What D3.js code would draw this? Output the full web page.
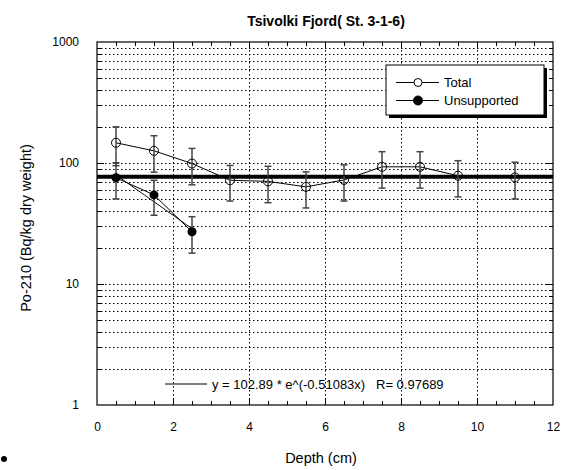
<!DOCTYPE html>
<html>
<head>
<meta charset="utf-8">
<script src="https://cdn.jsdelivr.net/npm/d3@7"></script>
<style>
  html, body { margin: 0; padding: 0; background: #fff; }
  text { font-family: "Liberation Sans", Arial, sans-serif; }
</style>
</head>
<body>
<svg id="chart" width="568" height="470"></svg>
<script>
// Po-210 profile, Tsivolki Fjord station 3-1-6
const depth        = [0.5, 1.5, 2.5, 3.5, 4.5, 5.5, 6.5, 7.5, 8.5, 9.5, 11];
const totalPo      = [147, 126, 99, 72, 70.5, 63.5, 72.5, 93, 93, 78.5, 76];
const totalErr     = [52, 42, 33, 23.5, 23.5, 21, 24, 31, 31, 26, 25.5];
const unsupDepth   = [0.5, 1.5, 2.5];
const unsupPo      = [75.5, 54.5, 27];
const unsupErr     = [25, 17.5, 9];
const supportedPo  = 77;
const fitA = 102.89, fitB = -0.51083, fitR = 0.97689;
const xTicks = [0, 2, 4, 6, 8, 10, 12];
const yTicks = [1, 10, 100, 1000];

const svg = d3.select("#chart");
const L = 97, R = 553, T = 42, B = 405;
const x = d3.scaleLinear().domain([0, 12]).range([L, R]);
const y = d3.scaleLog().domain([1, 1000]).range([B, T]);

// grid: minor log lines and major lines
const minorY = [];
for (let d = 1; d < 1000; d *= 10) for (let k = 2; k <= 9; k++) minorY.push(d * k);
const grid = svg.append("g").attr("stroke", "#000").attr("stroke-width", 1)
  .attr("stroke-dasharray", "1.5,2.5").attr("fill", "none");
grid.selectAll(".gy").data(minorY.concat([10, 100])).join("line")
  .attr("x1", L).attr("x2", R)
  .attr("y1", d => Math.round(y(d)) + 0.5).attr("y2", d => Math.round(y(d)) + 0.5);
grid.selectAll(".gx").data(xTicks.slice(1, -1)).join("line")
  .attr("y1", T).attr("y2", B)
  .attr("x1", d => Math.round(x(d)) + 0.5).attr("x2", d => Math.round(x(d)) + 0.5);

// frame
svg.append("rect").attr("x", L).attr("y", T).attr("width", R - L).attr("height", B - T)
  .attr("fill", "none").attr("stroke", "#000").attr("stroke-width", 1.2);

// inward ticks on all four sides
const tk = svg.append("g").attr("stroke", "#000").attr("stroke-width", 1);
const xMinor = d3.range(0.5, 12, 0.5);
xMinor.forEach(v => {
  const len = (v % 2 === 0) ? 7 : 4;
  const px = Math.round(x(v)) + 0.5;
  tk.append("line").attr("x1", px).attr("x2", px).attr("y1", B).attr("y2", B - len);
  tk.append("line").attr("x1", px).attr("x2", px).attr("y1", T).attr("y2", T + len);
});
minorY.concat([10, 100]).forEach(v => {
  const len = (v === 10 || v === 100) ? 7 : 4;
  const py = Math.round(y(v)) + 0.5;
  tk.append("line").attr("x1", L).attr("x2", L + len).attr("y1", py).attr("y2", py);
  tk.append("line").attr("x1", R).attr("x2", R - len).attr("y1", py).attr("y2", py);
});

// tick labels via d3 axes (axis lines hidden)
const xAxis = svg.append("g").attr("transform", `translate(0,${B})`)
  .call(d3.axisBottom(x).tickValues(xTicks).tickFormat(d3.format("d")).tickSize(0).tickPadding(17));
const yAxis = svg.append("g").attr("transform", `translate(${L},0)`)
  .call(d3.axisLeft(y).tickValues(yTicks).tickFormat(d3.format("d")).tickSize(0).tickPadding(18));
[xAxis, yAxis].forEach(a => {
  a.select(".domain").remove();
  a.selectAll("text").attr("font-size", 12).attr("fill", "#000")
    .style("font-family", "'Liberation Sans', Arial, sans-serif");
});

// supported level
svg.append("line").attr("x1", L).attr("x2", R)
  .attr("y1", y(supportedPo)).attr("y2", y(supportedPo))
  .attr("stroke", "#000").attr("stroke-width", 4);

// exponential fit for the unsupported fraction
const fitX = d3.range(0.5, 2.5001, 0.05);
svg.append("path")
  .datum(fitX)
  .attr("fill", "none").attr("stroke", "#000").attr("stroke-width", 1)
  .attr("d", d3.line().x(d => x(d)).y(d => y(fitA * Math.exp(fitB * d))));

// series lines
const line = d3.line().x(d => x(d[0])).y(d => y(d[1]));
svg.append("path").datum(depth.map((d, i) => [d, totalPo[i]]))
  .attr("fill", "none").attr("stroke", "#000").attr("stroke-width", 1).attr("d", line);
svg.append("path").datum(unsupDepth.map((d, i) => [d, unsupPo[i]]))
  .attr("fill", "none").attr("stroke", "#000").attr("stroke-width", 1).attr("d", line);

// error bars
function errorBars(xs, vs, es) {
  const g = svg.append("g").attr("stroke", "#444").attr("stroke-width", 1.5);
  xs.forEach((d, i) => {
    const px = x(d), y1 = y(vs[i] + es[i]), y2 = y(vs[i] - es[i]);
    g.append("line").attr("x1", px).attr("x2", px).attr("y1", y1).attr("y2", y2);
    g.append("line").attr("x1", px - 3.5).attr("x2", px + 3.5).attr("y1", y1).attr("y2", y1);
    g.append("line").attr("x1", px - 3.5).attr("x2", px + 3.5).attr("y1", y2).attr("y2", y2);
  });
}
errorBars(depth, totalPo, totalErr);
errorBars(unsupDepth, unsupPo, unsupErr);

// markers
svg.append("g").selectAll("circle").data(depth).join("circle")
  .attr("cx", d => x(d)).attr("cy", (d, i) => y(totalPo[i])).attr("r", 4.5)
  .attr("fill", "none").attr("stroke", "#000").attr("stroke-width", 1);
svg.append("g").selectAll("circle").data(unsupDepth).join("circle")
  .attr("cx", d => x(d)).attr("cy", (d, i) => y(unsupPo[i])).attr("r", 4.5)
  .attr("fill", "#000");

// legend
const lg = svg.append("g");
lg.append("rect").attr("x", 389).attr("y", 68).attr("width", 158).attr("height", 50).attr("fill", "#000");
lg.append("rect").attr("x", 386).attr("y", 65).attr("width", 158).attr("height", 50)
  .attr("fill", "#fff").attr("stroke", "#000").attr("stroke-width", 1);
[["Total", false, 82.5], ["Unsupported", true, 100.5]].forEach(([name, filled, ly]) => {
  lg.append("line").attr("x1", 396).attr("x2", 439).attr("y1", ly).attr("y2", ly)
    .attr("stroke", "#000").attr("stroke-width", 1);
  lg.append("circle").attr("cx", 418).attr("cy", ly).attr("r", filled ? 4.5 : 4)
    .attr("fill", filled ? "#000" : "#fff").attr("stroke", "#000");
  lg.append("text").attr("x", 444).attr("y", ly + 4.5).attr("font-size", 13).text(name);
});

// fit equation
svg.append("line").attr("x1", 165).attr("x2", 207).attr("y1", 384).attr("y2", 384)
  .attr("stroke", "#000").attr("stroke-width", 1);
svg.append("text").attr("x", 212).attr("y", 388.5).attr("font-size", 13)
  .attr("xml:space", "preserve")
  .text(`y = ${fitA} * e^(${fitB}x)   R= ${fitR}`);

// titles
svg.append("text").attr("x", 326).attr("y", 26).attr("text-anchor", "middle")
  .attr("font-size", 14).attr("font-weight", "bold").text("Tsivolki Fjord( St. 3-1-6)");
svg.append("text").attr("x", 321).attr("y", 463).attr("text-anchor", "middle")
  .attr("font-size", 14.5).text("Depth (cm)");
svg.append("text").attr("transform", "translate(31,228) rotate(-90)")
  .attr("text-anchor", "middle").attr("font-size", 14.5).text("Po-210 (Bq/kg dry weight)");

// small bullet at lower left
svg.append("circle").attr("cx", 4).attr("cy", 459).attr("r", 3).attr("fill", "#000");
</script>
</body>
</html>
